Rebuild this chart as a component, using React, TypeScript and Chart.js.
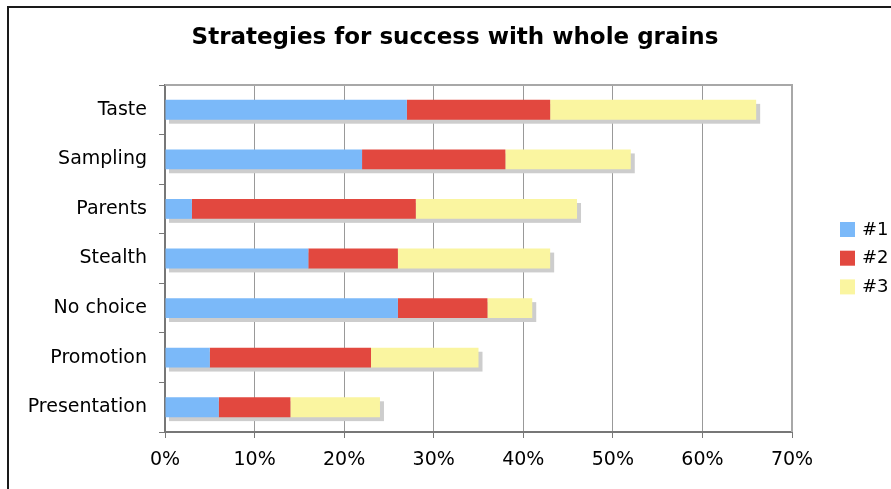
import React, { useEffect, useRef } from "react";
import { Chart, registerables } from "chart.js";

Chart.register(...registerables);

const TITLE = "Strategies for success with whole grains";
const categories = ["Taste", "Sampling", "Parents", "Stealth", "No choice", "Promotion", "Presentation"];
const rank1 = [27, 22, 3, 16, 26, 5, 6];
const rank2 = [16, 16, 25, 10, 10, 18, 8];
const rank3 = [23, 14, 18, 17, 5, 12, 10];
const seriesNames = ["#1", "#2", "#3"];
const seriesColors = ["#7bb9f9", "#e2483f", "#faf5a0"];
const xTicks = [0, 10, 20, 30, 40, 50, 60, 70];

const FONT = "'DejaVu Sans', Verdana, sans-serif";

const decorPlugin = {
  id: "decor",
  beforeDatasetsDraw(chart: any) {
    const ctx = chart.ctx;
    const xs = chart.scales.x;
    const ys = chart.scales.y;
    const meta = chart.getDatasetMeta(0);
    ctx.save();
    ctx.fillStyle = "#cdcdcd";
    categories.forEach((_, i) => {
      const total = chart.data.datasets.reduce((s: number, d: any) => s + d.data[i], 0);
      const el = meta.data[i];
      const h = el.height;
      const x0 = xs.getPixelForValue(0);
      const x1 = xs.getPixelForValue(total);
      const yc = ys.getPixelForValue(i);
      ctx.fillRect(x0 + 4, yc - h / 2 + 4, x1 - x0, h);
    });
    ctx.restore();
  },
  afterDraw(chart: any) {
    const ctx = chart.ctx;
    const a = chart.chartArea;
    ctx.save();
    ctx.strokeStyle = "#a8a8a8";
    ctx.lineWidth = 2;
    ctx.beginPath();
    ctx.moveTo(a.left, a.top);
    ctx.lineTo(a.right, a.top);
    ctx.lineTo(a.right, a.bottom);
    ctx.stroke();
    ctx.fillStyle = "#000";
    ctx.font = `bold 23px ${FONT}`;
    ctx.textAlign = "center";
    ctx.textBaseline = "middle";
    ctx.fillText(TITLE, 455, 38);
    ctx.font = `18px ${FONT}`;
    ctx.textAlign = "left";
    seriesNames.forEach((n, i) => {
      const y = 222 + i * 28.7;
      ctx.fillStyle = seriesColors[i];
      ctx.fillRect(840, y, 15, 15);
      ctx.fillStyle = "#000";
      ctx.fillText(n, 862, y + 8);
    });
    ctx.restore();
  },
};

export default function App() {
  const ref = useRef<HTMLCanvasElement>(null);
  useEffect(() => {
    if (!ref.current) return;
    const chart = new Chart(ref.current, {
      type: "bar",
      data: {
        labels: categories,
        datasets: [rank1, rank2, rank3].map((d, i) => ({
          label: seriesNames[i],
          data: d,
          backgroundColor: seriesColors[i],
          borderWidth: 0,
          categoryPercentage: 1,
          barPercentage: 0.4,
        })),
      },
      options: {
        indexAxis: "y",
        animation: false,
        responsive: true,
        maintainAspectRatio: false,
        layout: { padding: { left: 0, right: 99, top: 85, bottom: 0 } },
        plugins: { legend: { display: false }, title: { display: false }, tooltip: { enabled: false } },
        scales: {
          x: {
            stacked: true,
            min: 0,
            max: 70,
            afterFit: (s: any) => { s.height = 57; },
            afterBuildTicks: (s: any) => { s.ticks = xTicks.map((v) => ({ value: v })); },
            ticks: { callback: (v: any) => v + "%", color: "#000", font: { family: FONT, size: 19 }, padding: 11, maxRotation: 0 },
            grid: { color: "#999", lineWidth: 1, tickLength: 6, tickColor: "#777" },
            border: { color: "#777", width: 2 },
          },
          y: {
            stacked: true,
            afterFit: (s: any) => { s.width = 165; },
            ticks: { color: "#000", font: { family: FONT, size: 19 }, padding: 12 },
            grid: { drawOnChartArea: false, tickLength: 6, tickColor: "#777", offset: true },
            border: { color: "#777", width: 2 },
          },
        },
      },
      plugins: [decorPlugin],
    });
    return () => chart.destroy();
  }, []);
  return (
    <div style={{ position: "fixed", left: 0, top: 0, width: 891, height: 489, overflow: "hidden", background: "#fff" }}>
      <div style={{ position: "absolute", left: 7, top: 6, width: 1000, height: 1000, borderLeft: "2px solid #1a1a1a", borderTop: "2px solid #1a1a1a" }} />
      <div style={{ position: "absolute", left: 0, top: 0, width: 891, height: 489 }}>
        <canvas ref={ref} />
      </div>
    </div>
  );
}
